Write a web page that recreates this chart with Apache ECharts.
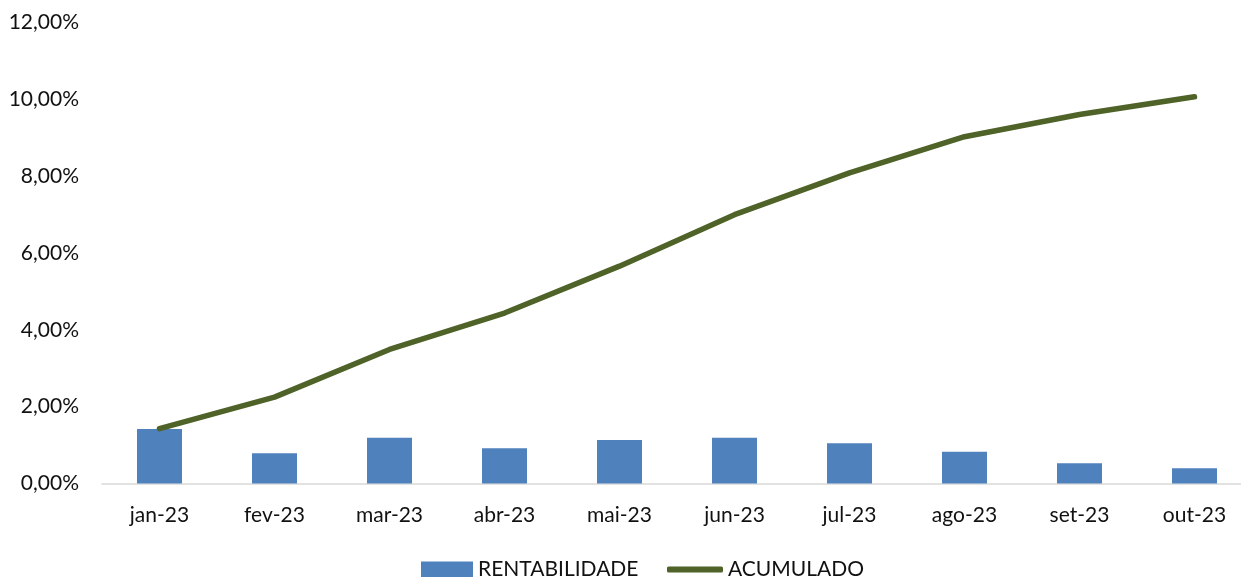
<!DOCTYPE html>
<html>
<head>
<meta charset="utf-8">
<script src="https://cdn.jsdelivr.net/npm/echarts@6/dist/echarts.min.js"></script>
<style>
  html, body { margin: 0; padding: 0; background: #ffffff; }
  #chart { width: 1241px; height: 577px; }
</style>
</head>
<body>
<div id="chart"></div>
<script>
// Monthly return and accumulated return, in percent
const months = ['jan-23', 'fev-23', 'mar-23', 'abr-23', 'mai-23', 'jun-23', 'jul-23', 'ago-23', 'set-23', 'out-23'];
const rentabilidade = [1.42, 0.79, 1.19, 0.92, 1.13, 1.19, 1.05, 0.83, 0.53, 0.40];
const acumulado = [1.43, 2.25, 3.49, 4.44, 5.66, 7.00, 8.09, 9.03, 9.61, 10.07];
const yTicks = { min: 0, max: 12, step: 2 };

const fontFamily = 'Lato, "Liberation Sans", sans-serif';
const textColor = '#111111';
const barColor = '#4f81bd';
const lineColor = '#4f6228';
const fmtPct = v => v.toFixed(2).replace('.', ',') + '%';

const legendText = { fontFamily: fontFamily, fontSize: 21, color: textColor };
const plotTop = 22.7;
const plotHeight = 460.8;

const chart = echarts.init(document.getElementById('chart'), null, { renderer: 'canvas' });
chart.setOption({
  animation: false,
  backgroundColor: '#ffffff',
  textStyle: { fontFamily: fontFamily },
  grid: [
    // data grid: first and last category sit on the grid edges
    { left: 159.5, right: 46.5, top: plotTop, height: plotHeight, containLabel: false },
    // frame grid: carries the baseline and the percent labels
    { left: 102, right: 0, top: plotTop, height: plotHeight, containLabel: false }
  ],
  legend: [
    {
      left: 421, top: 559, padding: 0,
      itemWidth: 52, itemHeight: 16, itemGap: 6,
      textStyle: legendText,
      data: [{ name: 'RENTABILIDADE', icon: 'rect' }]
    },
    {
      left: 667, top: 559, padding: 0,
      itemWidth: 56, itemHeight: 6, itemGap: 4,
      textStyle: legendText,
      data: [{ name: 'ACUMULADO', icon: 'roundRect' }]
    }
  ],
  xAxis: [
    {
      gridIndex: 0,
      type: 'category',
      data: months,
      boundaryGap: false,
      axisLine: { show: false },
      axisTick: { show: false },
      axisLabel: { color: textColor, fontSize: 21, fontFamily: fontFamily, margin: 21 },
      splitLine: { show: false }
    },
    {
      gridIndex: 1,
      type: 'value',
      min: 0,
      max: 1,
      axisLine: { show: true, lineStyle: { color: '#d9d9d9', width: 1.5 } },
      axisTick: { show: false },
      axisLabel: { show: false },
      splitLine: { show: false }
    }
  ],
  yAxis: [
    {
      gridIndex: 0,
      type: 'value',
      min: yTicks.min,
      max: yTicks.max,
      interval: yTicks.step,
      show: false
    },
    {
      gridIndex: 1,
      type: 'value',
      min: yTicks.min,
      max: yTicks.max,
      interval: yTicks.step,
      axisLine: { show: false },
      axisTick: { show: false },
      splitLine: { show: false },
      axisLabel: { color: textColor, fontSize: 21, fontFamily: fontFamily, margin: 23, formatter: fmtPct }
    }
  ],
  series: [
    {
      name: 'RENTABILIDADE',
      type: 'bar',
      xAxisIndex: 0,
      yAxisIndex: 0,
      data: rentabilidade,
      barWidth: 45,
      itemStyle: { color: barColor }
    },
    {
      name: 'ACUMULADO',
      type: 'line',
      xAxisIndex: 0,
      yAxisIndex: 0,
      data: acumulado,
      symbol: 'none',
      z: 3,
      lineStyle: { color: lineColor, width: 5.5, cap: 'round', join: 'round' },
      itemStyle: { color: lineColor }
    }
  ]
});
</script>
</body>
</html>
